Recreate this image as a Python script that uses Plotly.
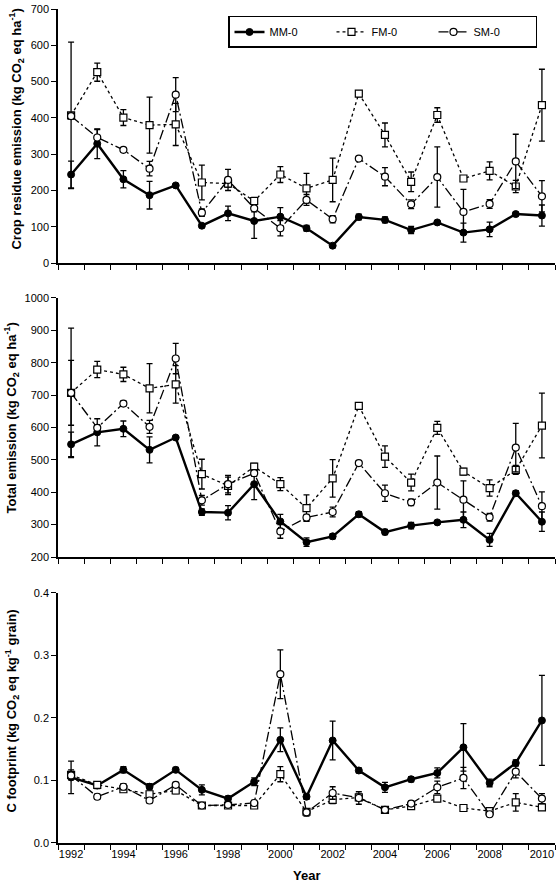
import plotly.graph_objects as go

years = list(range(1992, 2011))
even_years = list(range(1992, 2011, 2))

# Crop residue emission (kg CO2 eq ha-1)
crop_mm = [244, 329, 231, 187, 214, 103, 137, 116, 128, 96, 48, 127, 119, 91, 112, 84, 93, 135, 131]
crop_fm = [407, 526, 401, 380, 382, 222, 219, 171, 244, 206, 229, 467, 353, 224, 408, 233, 254, 211, 435]
crop_sm = [405, 346, 312, 260, 464, 139, 229, 151, 96, 174, 121, 288, 238, 162, 237, 141, 163, 280, 184]
crop_mm_err = [37, 41, 24, 38, 5, 5, 20, 48, 25, 8, 5, 8, 8, 10, 5, 26, 20, 5, 29]
crop_fm_err = [202, 25, 22, 77, 58, 48, 10, 10, 22, 41, 60, 8, 33, 27, 20, 5, 25, 17, 99]
crop_sm_err = [8, 22, 5, 20, 47, 10, 29, 10, 21, 15, 10, 5, 25, 12, 83, 62, 12, 75, 43]

# Total emission (kg CO2 eq ha-1)
tot_mm = [548, 585, 596, 531, 569, 339, 337, 425, 310, 246, 264, 332, 277, 297, 307, 315, 253, 397, 309]
tot_fm = [707, 779, 764, 721, 733, 456, 420, 479, 425, 351, 443, 667, 510, 430, 599, 464, 413, 469, 606]
tot_sm = [707, 599, 674, 602, 813, 375, 425, 459, 279, 322, 339, 490, 397, 369, 430, 377, 323, 538, 357]
tot_mm_err = [38, 42, 24, 40, 5, 10, 22, 48, 22, 13, 8, 8, 8, 10, 5, 24, 20, 8, 30]
tot_fm_err = [200, 25, 22, 76, 58, 46, 27, 10, 20, 41, 58, 8, 33, 26, 20, 10, 25, 14, 100]
tot_sm_err = [100, 10, 8, 20, 47, 15, 27, 10, 21, 10, 15, 8, 25, 10, 82, 58, 12, 75, 44]

# C footprint (kg CO2 eq kg-1 grain)
cf_mm = [0.105, 0.092, 0.117, 0.090, 0.117, 0.085, 0.071, 0.098, 0.165, 0.074, 0.164, 0.116, 0.089, 0.102, 0.112, 0.153, 0.096, 0.128, 0.196]
cf_fm = [0.109, 0.093, 0.086, 0.078, 0.084, 0.060, 0.060, 0.060, 0.110, 0.050, 0.069, 0.073, 0.053, 0.059, 0.071, 0.056, 0.051, 0.065, 0.057]
cf_sm = [0.108, 0.074, 0.090, 0.068, 0.093, 0.060, 0.061, 0.064, 0.270, 0.049, 0.080, 0.072, 0.053, 0.063, 0.089, 0.104, 0.046, 0.114, 0.071]
cf_mm_err = [0.026, 0.005, 0.005, 0.005, 0.004, 0.008, 0.004, 0.006, 0.019, 0.004, 0.031, 0.004, 0.008, 0.004, 0.008, 0.038, 0.006, 0.005, 0.072]
cf_fm_err = [0.008, 0.005, 0.004, 0.004, 0.005, 0.003, 0.003, 0.003, 0.012, 0.004, 0.006, 0.005, 0.003, 0.003, 0.003, 0.003, 0.003, 0.014, 0.004]
cf_sm_err = [0.005, 0.004, 0.005, 0.004, 0.004, 0.003, 0.003, 0.004, 0.039, 0.006, 0.010, 0.010, 0.003, 0.004, 0.010, 0.017, 0.003, 0.010, 0.008]

series_names = ["MM-0", "FM-0", "SM-0"]

FONT = "Liberation Sans, Arial, sans-serif"
W, H = 558, 886
ML, MR, MT, MB = 58, 3, 6, 43

fig = go.Figure()

styles = {
    "MM-0": dict(line=dict(color="black", width=2.4, dash="solid"),
                 marker=dict(symbol="circle", size=7, color="black", line=dict(color="black", width=1))),
    "FM-0": dict(line=dict(color="black", width=1.3, dash="dot"),
                 marker=dict(symbol="square", size=7, color="white", line=dict(color="black", width=1.2))),
    "SM-0": dict(line=dict(color="black", width=1.3, dash="10px,3px,2px,3px"),
                 marker=dict(symbol="circle", size=7, color="white", line=dict(color="black", width=1.2))),
}

panels = [
    ("y", [crop_mm, crop_fm, crop_sm], [crop_mm_err, crop_fm_err, crop_sm_err]),
    ("y2", [tot_mm, tot_fm, tot_sm], [tot_mm_err, tot_fm_err, tot_sm_err]),
    ("y3", [cf_mm, cf_fm, cf_sm], [cf_mm_err, cf_fm_err, cf_sm_err]),
]
xrefs = ["x", "x2", "x3"]

for pi, (yref, vals, errs) in enumerate(panels):
    for name, v, e in zip(series_names, vals, errs):
        st = styles[name]
        fig.add_trace(go.Scatter(
            x=years, y=v, name=name, mode="lines+markers",
            line=st["line"], marker=st["marker"],
            error_y=dict(type="data", array=e, visible=True, color="black", thickness=1.3, width=3),
            xaxis=xrefs[pi], yaxis=yref,
            legendgroup=name, showlegend=(pi == 0),
        ))

plot_h = H - MT - MB
def dom(top_px, bot_px):
    return [(H - MB - bot_px) / plot_h, (H - MB - top_px) / plot_h]

bounds = [y - 0.5 for y in range(1992, 2012)]
xcommon = dict(range=[1991.5, 2010.5], showline=True, linecolor="black", linewidth=1.5,
               showgrid=False, zeroline=False, ticks="",
               minor=dict(tickmode="array", tickvals=bounds, ticks="outside", ticklen=5,
                          tickwidth=1.3, tickcolor="black", showgrid=False),
               tickfont=dict(family=FONT, size=11, color="black"))
ycommon = dict(showline=True, linecolor="black", linewidth=1.5, showgrid=False, zeroline=False,
               ticks="outside", ticklen=5, tickwidth=1.3, tickcolor="black",
               tickfont=dict(family=FONT, size=11, color="black"))

fig.update_layout(
    width=W, height=H, margin=dict(l=ML, r=MR, t=MT, b=MB),
    paper_bgcolor="white", plot_bgcolor="white",
    font=dict(family=FONT, color="black"),
    xaxis=dict(**xcommon, domain=[0, 1], anchor="y", showticklabels=False),
    xaxis2=dict(**xcommon, domain=[0, 1], anchor="y2", showticklabels=False, matches="x"),
    xaxis3=dict(**xcommon, domain=[0, 1], anchor="y3", showticklabels=True,
                tickmode="array", tickvals=even_years, ticktext=[str(y) for y in even_years]),
    yaxis=dict(**ycommon, domain=dom(6, 261), range=[0, 700], dtick=100, anchor="x"),
    yaxis2=dict(**ycommon, domain=dom(296, 556), range=[200, 1000], dtick=100, anchor="x2"),
    yaxis3=dict(**ycommon, domain=dom(592, 843), range=[0, 0.4], dtick=0.1, tickformat=".1f", anchor="x3"),
    legend=dict(orientation="h", x=(228 - ML) / (W - ML - MR), y=(H - MB - 13) / plot_h,
                xanchor="left", yanchor="top", bordercolor="black", borderwidth=1.5,
                bgcolor="white", font=dict(family=FONT, size=11, color="black"),
                entrywidth=57, entrywidthmode="pixels", traceorder="normal"),
    showlegend=True,
)

plot_w = W - ML - MR
def px_x(px):
    return (px - ML) / plot_w
def px_y(py):
    return (H - MB - py) / plot_h

titles = [
    ("<b>Crop residue emission (kg CO<sub>2</sub> eq ha<sup>-1</sup>)</b>", 16, 127),
    ("<b>Total emission (kg CO<sub>2</sub> eq ha<sup>-1</sup>)</b>", 11, 417),
    ("<b>C footprint (kg CO<sub>2</sub> eq kg<sup>-1</sup> grain)</b>", 12, 711),
]
for txt, xp, yp in titles:
    fig.add_annotation(text=txt, x=px_x(xp), y=px_y(yp), xref="paper", yref="paper",
                       textangle=-90, showarrow=False, xanchor="center", yanchor="middle",
                       font=dict(family=FONT, size=13, color="black"))

fig.add_annotation(text="<b>Year</b>", x=px_x((ML + W - MR) / 2), y=px_y(876), xref="paper", yref="paper",
                   showarrow=False, xanchor="center", yanchor="middle",
                   font=dict(family=FONT, size=13, color="black"))

fig.write_html("out.html", config={"displayModeBar": False},
               post_script="document.body.style.margin='0';document.body.style.overflow='hidden';")
